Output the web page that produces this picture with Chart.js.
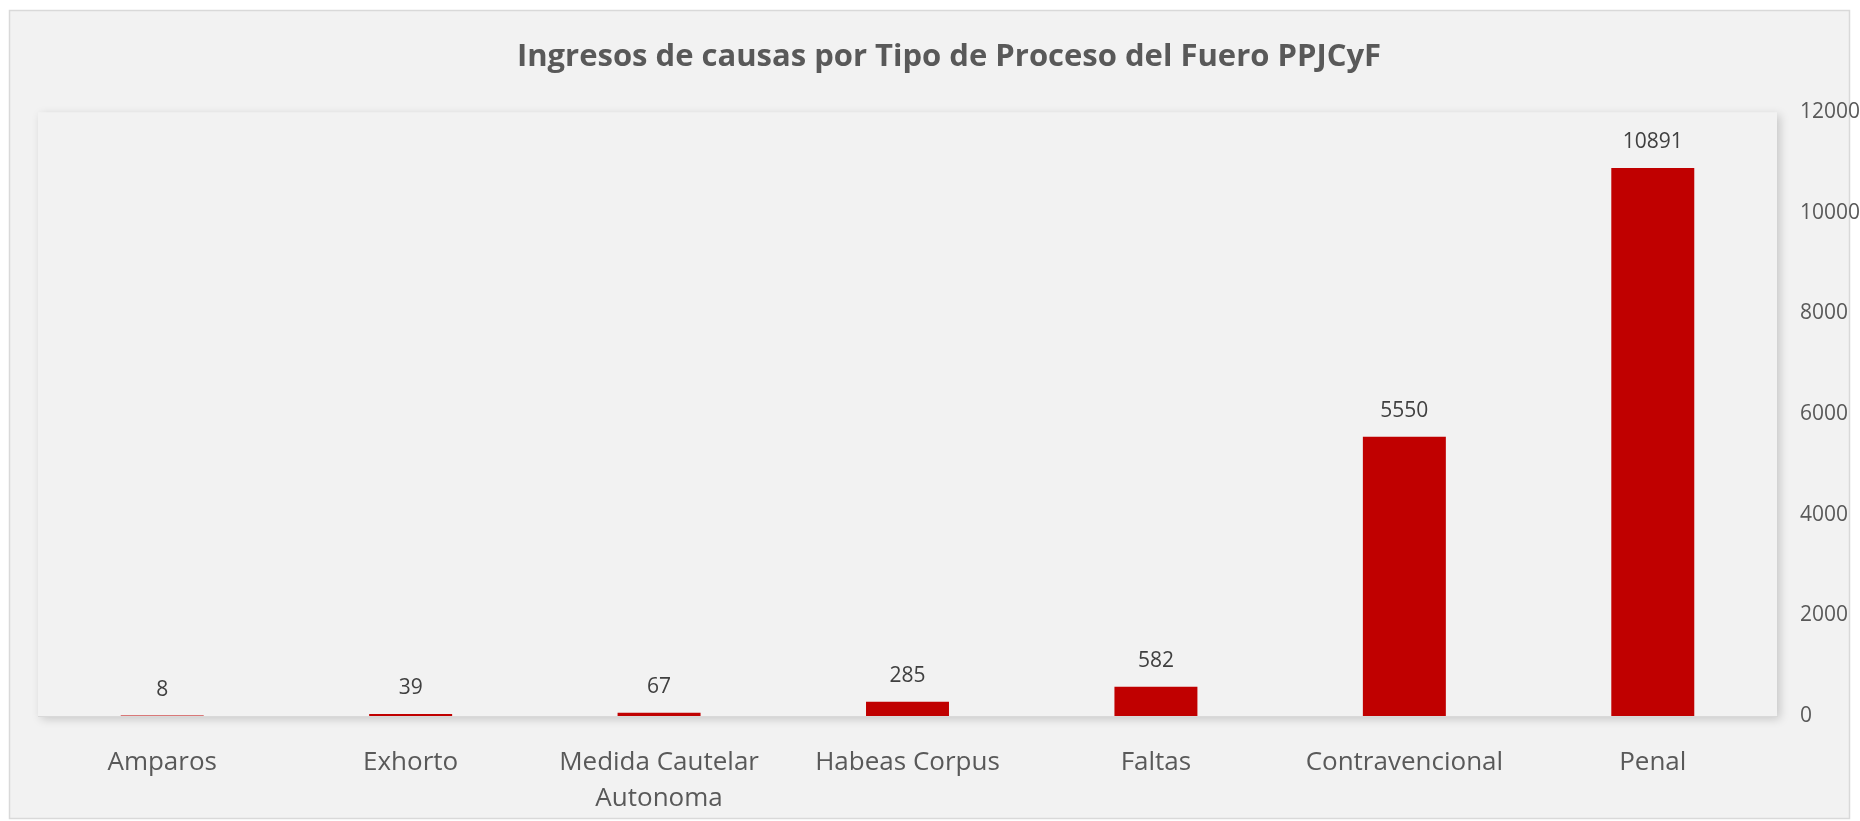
<!DOCTYPE html>
<html>
<head>
<meta charset="utf-8">
<script src="https://cdn.jsdelivr.net/npm/chart.js@4/dist/chart.umd.min.js"></script>
<style>
  html, body { margin: 0; padding: 0; background: #ffffff; }
  #wrap { width: 1860px; height: 821px; position: relative; }
</style>
</head>
<body>
<div id="wrap"><canvas id="c" width="1860" height="821"></canvas></div>
<script>
const categories = ["Amparos", "Exhorto", ["Medida Cautelar", "Autonoma"], "Habeas Corpus", "Faltas", "Contravencional", "Penal"];
const values = [8, 39, 67, 285, 582, 5550, 10891];
const yTicks = [0, 2000, 4000, 6000, 8000, 10000, 12000];
const titleText = "Ingresos de causas por Tipo de Proceso del Fuero PPJCyF";

const FONT = "'Open Sans', sans-serif";

const frame = {
  id: 'frame',
  beforeDraw(chart) {
    const ctx = chart.ctx;
    ctx.save();
    ctx.fillStyle = '#f2f2f2';
    ctx.fillRect(9.5, 10.5, 1840, 808);
    ctx.strokeStyle = '#d9d9d9';
    ctx.lineWidth = 1.5;
    ctx.strokeRect(9.5, 10.5, 1840, 808);
    const a = chart.chartArea;
    ctx.shadowColor = 'rgba(0,0,0,0.18)';
    ctx.shadowBlur = 9;
    ctx.shadowOffsetX = 3;
    ctx.shadowOffsetY = 3;
    ctx.fillStyle = '#f2f2f2';
    ctx.fillRect(a.left, a.top, a.right - a.left, a.bottom - a.top);
    ctx.restore();
  }
};

const valueLabels = {
  id: 'valueLabels',
  afterDatasetsDraw(chart) {
    const ctx = chart.ctx;
    const meta = chart.getDatasetMeta(0);
    ctx.save();
    ctx.font = "21px " + FONT;
    ctx.fillStyle = '#404040';
    ctx.textAlign = 'center';
    ctx.textBaseline = 'middle';
    meta.data.forEach((bar, i) => {
      ctx.fillText(String(values[i]), bar.x, bar.y - 26);
    });
    ctx.restore();
  }
};

new Chart(document.getElementById('c'), {
  type: 'bar',
  data: {
    labels: categories,
    datasets: [{
      data: values,
      backgroundColor: '#c00000',
      borderWidth: 0,
      categoryPercentage: 1.0,
      barPercentage: 0.334
    }]
  },
  options: {
    responsive: false,
    animation: false,
    devicePixelRatio: 1,
    layout: { padding: { left: 38, right: 0, top: 39, bottom: 0 } },
    plugins: {
      legend: { display: false },
      tooltip: { enabled: false },
      title: {
        display: true,
        text: titleText,
        color: '#595959',
        font: { family: FONT, size: 31, weight: 'bold' },
        padding: { top: 0, bottom: 36 }
      }
    },
    scales: {
      x: {
        grid: { display: false, drawTicks: false },
        border: { display: true, color: '#d9d9d9', width: 1 },
        ticks: {
          color: '#595959',
          font: { family: FONT, size: 26, lineHeight: 1.38 },
          padding: 29,
          maxRotation: 0,
          autoSkip: false
        },
        afterFit(scale) { scale.height = 105; }
      },
      y: {
        position: 'right',
        min: 0,
        max: 12000,
        afterBuildTicks(scale) { scale.ticks = yTicks.map(v => ({ value: v })); },
        grid: { display: false, drawTicks: false },
        border: { display: false },
        ticks: {
          color: '#595959',
          font: { family: FONT, size: 21 },
          padding: 23,
          callback: (v) => String(v)
        },
        afterFit(scale) { scale.width = 83; }
      }
    }
  },
  plugins: [frame, valueLabels]
});
</script>
</body>
</html>
